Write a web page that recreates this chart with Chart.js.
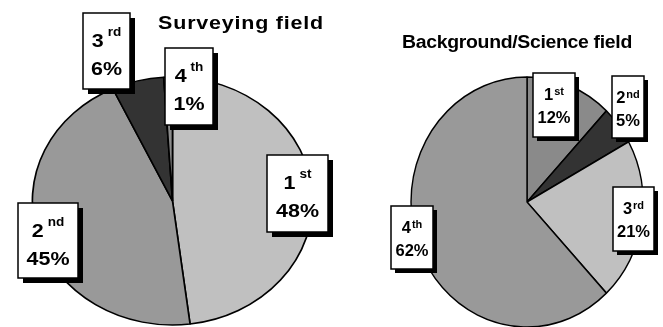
<!DOCTYPE html>
<html>
<head>
<meta charset="utf-8">
<script src="https://cdn.jsdelivr.net/npm/chart.js@4.4.1/dist/chart.umd.min.js"></script>
<style>
  html, body { margin: 0; padding: 0; background: #fff; }
  #wrap { position: relative; width: 663px; height: 327px; overflow: hidden; }
  canvas { position: absolute; top: 0; }
  #left { left: 0; }
  #right { left: 345px; }
</style>
</head>
<body>
<div id="wrap">
  <canvas id="left" width="345" height="327"></canvas>
  <canvas id="right" width="318" height="327"></canvas>
</div>
<script>
// Ranking categories and the share of each rank, per field
const rankLabels = ['1st', '2nd', '3rd', '4th'];
const surveyingShares = [48, 45, 6, 1];
const scienceShares = [12, 5, 21, 62];
const surveyingTitle = 'Surveying field';
const scienceTitle = 'Background/Science field';

const surveyingColors = ['#c0c0c0', '#999999', '#333333', '#8c8c8c'];
const scienceColors = ['#8a8a8a', '#333333', '#c0c0c0', '#999999'];

// Callout boxes [left, top, width, height] in canvas pixels, one per rank
const surveyingBoxes = [[267, 155, 61, 77], [18, 203, 60, 75], [83, 13, 47, 76], [165, 48, 48, 77]];
const scienceBoxes = [[188, 73, 42, 64], [267, 76, 32, 62], [268, 187, 41, 64], [46, 206, 42, 63]];

const FAMILY = '"Liberation Sans", Arial, Helvetica, sans-serif';

// Stretches the pie horizontally around its centre, so it draws as an ellipse
const ellipsePlugin = {
  id: 'ellipse',
  beforeDatasetsDraw(chart, args, opts) {
    const arc = chart.getDatasetMeta(0).data[0];
    const ctx = chart.ctx;
    ctx.save();
    ctx.translate(arc.x, arc.y);
    ctx.scale(opts.scaleX || 1, 1);
    ctx.translate(-arc.x, -arc.y);
  },
  afterDatasetsDraw(chart) {
    chart.ctx.restore();
  }
};

// Draws text horizontally stretched by sx around its anchor point
function stretchedText(ctx, text, x, y, align, sx) {
  ctx.save();
  ctx.translate(x, y);
  ctx.scale(sx, 1);
  ctx.textAlign = align;
  ctx.fillText(text, 0, 0);
  ctx.restore();
}

// Title text and boxed "rank / percent" callouts with drop shadows
const calloutPlugin = {
  id: 'callouts',
  afterDraw(chart, args, o) {
    const ctx = chart.ctx;
    const values = chart.data.datasets[0].data;
    const labels = chart.data.labels;
    const sx = o.textScaleX;
    ctx.save();
    ctx.fillStyle = '#000';
    ctx.textBaseline = 'alphabetic';
    ctx.font = o.titleFont;
    ctx.letterSpacing = o.titleSpacing + 'px';
    stretchedText(ctx, o.title, o.titleX, o.titleY, 'center', o.titleScaleX);
    ctx.letterSpacing = '0px';

    labels.forEach((lab, i) => {
      const [x, y, w, h] = o.boxes[i];
      ctx.fillStyle = '#000';
      ctx.fillRect(x + o.shadow, y + o.shadow, w, h);
      ctx.fillStyle = '#fff';
      ctx.fillRect(x, y, w, h);
      ctx.strokeStyle = '#000';
      ctx.lineWidth = 1.5;
      ctx.strokeRect(x, y, w, h);

      const m = lab.match(/^(\d+)(\D+)$/);
      const digit = m[1], suffix = m[2];
      const cx = x + w / 2;
      ctx.fillStyle = '#000';
      ctx.font = o.font;
      const wd = ctx.measureText(digit).width * sx;
      ctx.font = o.supFont;
      const ws = ctx.measureText(suffix).width * sx;
      const start = cx - (wd + o.gap + ws) / 2;
      ctx.font = o.font;
      stretchedText(ctx, digit, start, y + o.line1, 'left', sx);
      ctx.font = o.supFont;
      stretchedText(ctx, suffix, start + wd + o.gap, y + o.line1 - o.supRaise, 'left', sx);

      ctx.font = o.font;
      stretchedText(ctx, values[i] + '%', cx, y + o.line2, 'center', sx);
    });
    ctx.restore();
  }
};

function makePie(id, values, colors, radius, padding, scaleX, callouts) {
  return new Chart(document.getElementById(id), {
    type: 'pie',
    data: {
      labels: rankLabels,
      datasets: [{
        data: values,
        backgroundColor: colors,
        borderColor: '#000',
        borderWidth: 1.5,
        radius: radius,
        clip: false
      }]
    },
    options: {
      responsive: false,
      animation: false,
      devicePixelRatio: 1,
      rotation: 0,
      layout: { padding: padding },
      events: [],
      plugins: {
        legend: { display: false },
        tooltip: { enabled: false },
        title: { display: false },
        ellipse: { scaleX: scaleX },
        callouts: callouts
      }
    },
    plugins: [ellipsePlugin, calloutPlugin]
  });
}

makePie('left', surveyingShares, surveyingColors, 124,
  { top: 75, bottom: 0, left: 0, right: 0 }, 1.13, {
    title: surveyingTitle, titleX: 241, titleY: 29,
    titleFont: 'bold 19px ' + FAMILY, titleSpacing: 0.7, titleScaleX: 1.13,
    boxes: surveyingBoxes, shadow: 5, textScaleX: 1.13,
    font: 'bold 19px ' + FAMILY, supFont: 'bold 12px ' + FAMILY,
    gap: 4, supRaise: 11, line1: 34, line2: 62
  });

makePie('right', scienceShares, scienceColors, 125,
  { top: 77, bottom: 0, left: 46, right: 0 }, 0.928, {
    title: scienceTitle, titleX: 172, titleY: 48,
    titleFont: 'bold 18px ' + FAMILY, titleSpacing: -0.3, titleScaleX: 1.08,
    boxes: scienceBoxes, shadow: 4, textScaleX: 1,
    font: 'bold 16.5px ' + FAMILY, supFont: 'bold 11px ' + FAMILY,
    gap: 1, supRaise: 5, line1: 27, line2: 50
  });
</script>
</body>
</html>
